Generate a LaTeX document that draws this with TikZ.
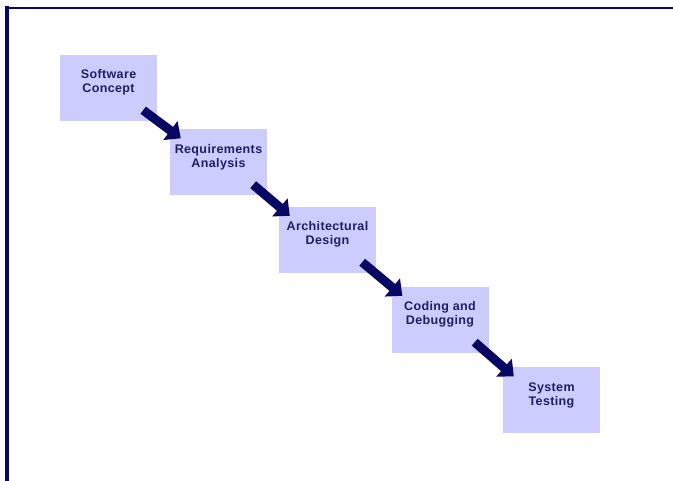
\documentclass[tikz,border=0pt]{standalone}
\usepackage{fontspec}
\usepackage{tikz}
\usetikzlibrary{arrows.meta}
\usetikzlibrary{positioning}
\newfontfamily\stagefont{Liberation Sans}[LetterSpace=3]
\definecolor{stagefill}{RGB}{204,204,255}
\definecolor{stagetextcol}{RGB}{30,30,100}
\definecolor{navy}{RGB}{8,8,100}
\tikzset{
    stage/.style={
           rectangle,
           fill=stagefill,
           minimum width=97pt,
           minimum height=66pt,
           inner sep=0pt,
           },
    stagetext/.style={
           align=center,
           text=stagetextcol,
           font=\stagefont\bfseries\fontsize{12.5}{14}\selectfont,
           yshift=5.5pt,
           },
    flow/.style={
           draw=navy,
           line width=9pt,
           -{Triangle[length=13pt,width=23pt]},
           },
}
\begin{document}
\begin{tikzpicture}[x=1pt,y=-1pt,on grid]
   \useasboundingbox (0,0) rectangle (673,481);

   % frame lines, left and top
   \draw[navy,line width=2.5pt] (5,7.8) -- (673,7.8);
   \draw[navy,line width=3.5pt] (7,6.5) -- (7,481);

   % the five stages, one step down and right each time
   \node[stage,label={[stagetext]center:{Software\\Concept}}] (CONCEPT) at (108.5,88) {};

   \node[stage,
    below right=74.5pt and 110pt of CONCEPT,
    label={[stagetext]center:{Requirements\\Analysis}}] (REQUIREMENTS) {};

   \node[stage,
    below right=77.5pt and 109pt of REQUIREMENTS,
    label={[stagetext]center:{Architectural\\Design}}] (DESIGN) {};

   \node[stage,
    below right=80pt and 112.5pt of DESIGN,
    label={[stagetext]center:{Coding and\\Debugging}}] (CODING) {};

   \node[stage,
    below right=80.5pt and 111.5pt of CODING,
    label={[stagetext]center:{System\\Testing}}] (TESTING) {};

   % thick arrows from corner to corner
   \draw[flow] ([shift={(-14,-11)}]CONCEPT.south east) -- ([shift={(11,9)}]REQUIREMENTS.north west);
   \draw[flow] ([shift={(-14,-11)}]REQUIREMENTS.south east) -- ([shift={(11,9)}]DESIGN.north west);
   \draw[flow] ([shift={(-14,-11)}]DESIGN.south east) -- ([shift={(11,9)}]CODING.north west);
   \draw[flow] ([shift={(-14,-11)}]CODING.south east) -- ([shift={(11,9)}]TESTING.north west);

\end{tikzpicture}
\end{document}
